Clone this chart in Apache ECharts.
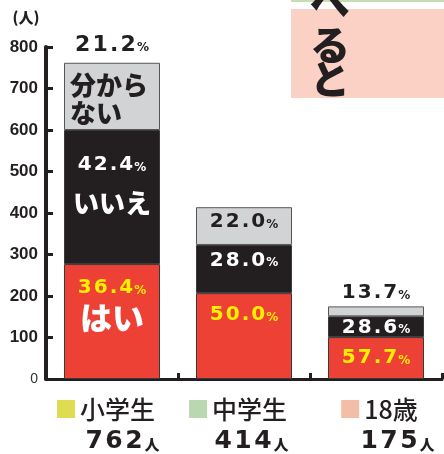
<!DOCTYPE html>
<html>
<head>
<meta charset="utf-8">
<script src="https://cdn.jsdelivr.net/npm/echarts@6/dist/echarts.min.js"></script>
<style>
  html, body { margin: 0; padding: 0; background: #fff; }
  #chart { width: 444px; height: 454px; }
</style>
</head>
<body>
<div id="chart"></div>
<script>
// data
const categories = ['小学生', '中学生', '18歳']
const totals = [762, 414, 175]
const yesCount = [277, 207, 101]
const noCount = [323, 116, 50]
const unsureCount = [162, 91, 24]
const yesPct = ['36.4', '50.0', '57.7']
const noPct = ['42.4', '28.0', '28.6']
const unsurePct = ['21.2', '22.0', '13.7']
const yMin = 0, yMax = 800, yStep = 100
const sideWords = ['べ', 'る', 'と']

const INK = '#231f20'
const RED = '#ee4136'
const GRAY = '#d1d3d4'
const YELLOW = '#fff000'
const legendColors = ['#e0dc52', '#b9d8b0', '#f3bea7']
const JP = '"Noto Sans CJK JP", "Noto Sans", sans-serif'
const NUM = '"DejaVu Sans", sans-serif'

let $ = s => document.querySelector(s)
let spaced = s => s.split('').join('\u200a')

// where each segment label sits (layout only)
const yesPlace = [
  {position: 'insideTop', distance: 9, lh: 30, word: 'はい', wsize: 32, wlh: 30},
  {position: 'insideTop', distance: 10},
  {position: 'inside', offset: [0, 0]}
]
const noPlace = [
  {position: 'insideTop', distance: 17, lh: 36, word: 'いいえ', wsize: 26, wlh: 40},
  {position: 'insideTop', distance: 3.5},
  {position: 'inside', offset: [0, 1]}
]
const unsurePlace = [
  null,
  {position: 'insideTop', distance: 3},
  null
]
const topPlace = [
  {position: 'top', distance: 5, size: 22},
  null,
  {position: 'top', distance: 1.5}
]

function pctLabel(pct, place, numColor, wordColor) {
  if (!place) return {show: false}
  let lh = place.lh || 24
  let lines = [`{n|${spaced(pct)}}{u|%}`]
  if (place.word) lines.push(`{w|${place.word}}`)
  return {
    show: true,
    position: place.position,
    distance: place.distance || 0,
    offset: place.offset || [0, 0],
    formatter: lines.join('\n'),
    rich: {
      n: {fontFamily: NUM, fontWeight: 'bold', fontSize: place.size || 20, lineHeight: lh, color: numColor},
      u: {fontFamily: NUM, fontWeight: 'bold', fontSize: 12, lineHeight: lh, padding: [5, 0, 0, 1], color: numColor},
      w: {fontFamily: JP, fontWeight: 900, fontSize: place.wsize || 26, lineHeight: place.wlh || 40, color: wordColor}
    }
  }
}

function items(values, pcts, places, numColor, wordColor) {
  return values.map((v, i) => ({value: v, label: pctLabel(pcts[i], places[i], numColor, wordColor)}))
}

// legend under each category: square + name, then the head count
const line1Shift = [-6, -6, 3.5]
const line2Shift = [10.5, 7.5, 21.5]
const legendRich = {
  c: {fontFamily: JP, fontWeight: 500, fontSize: 25, color: INK, lineHeight: 30, padding: [0, 0, 0, 5]},
  k: {fontFamily: NUM, fontWeight: 'bold', fontSize: 25, color: INK, lineHeight: 34},
  h: {fontFamily: JP, fontWeight: 900, fontSize: 15, color: INK, lineHeight: 34, padding: [6, 0, 0, 2]}
}
categories.forEach((c, i) => {
  legendRich['s' + i] = {width: 18, height: 18, backgroundColor: legendColors[i]}
  let a = line1Shift[i], b = line2Shift[i]
  legendRich['a' + i] = {width: a > 0 ? 2 * a : 0.1}
  legendRich['r' + i] = {width: a < 0 ? -2 * a : 0.1}
  legendRich['b' + i] = {width: b > 0 ? 2 * b : 0.1}
})

const Chart = {
  init() {
    this.chart = echarts.init($('#chart'), null, {renderer: 'canvas'})
    this.render()
  },

  render() {
    const option = {
      animation: false,
      backgroundColor: '#fff',
      grid: {left: 46, right: 2, top: 47, bottom: 75, containLabel: false, outerBoundsMode: 'none'},
      xAxis: {
        type: 'category',
        data: categories,
        axisLine: {lineStyle: {color: INK, width: 3}},
        axisTick: {show: true, inside: true, length: 6, lineStyle: {color: INK, width: 3}},
        axisLabel: {
          interval: 0,
          margin: 15,
          formatter: (v, i) => `{a${i}|}{s${i}|}{c|${v}}{r${i}|}\n{b${i}|}{k|${spaced(String(totals[i]))}}{h|人}`,
          rich: legendRich
        },
        splitLine: {show: false}
      },
      yAxis: {
        type: 'value',
        min: yMin, max: yMax, interval: yStep,
        name: '(人)',
        nameLocation: 'end',
        nameGap: 22,
        nameTextStyle: {fontFamily: JP, fontWeight: 900, fontSize: 15, color: INK, align: 'center', padding: [0, 40, 0, 0]},
        axisLine: {show: true, lineStyle: {color: INK, width: 4}},
        axisTick: {show: true, inside: true, length: 7, lineStyle: {color: INK, width: 3}},
        splitLine: {show: false},
        axisLabel: {
          margin: 8,
          color: INK,
          fontFamily: '"Liberation Sans", Arial, sans-serif',
          fontWeight: 'bold',
          fontSize: 17,
          formatter: v => v === 0 ? '{z|0}' : String(v),
          rich: {z: {fontFamily: '"Liberation Sans", Arial, sans-serif', fontSize: 14, fontWeight: 'normal', color: '#333'}}
        }
      },
      series: [
        {
          name: 'はい', type: 'bar', stack: 'total', barWidth: 96,
          itemStyle: {color: RED, borderColor: '#3a3a3a', borderWidth: 1},
          data: items(yesCount, yesPct, yesPlace, YELLOW, '#fff')
        },
        {
          name: 'いいえ', type: 'bar', stack: 'total', barWidth: 96,
          itemStyle: {color: INK, borderColor: '#3a3a3a', borderWidth: 1},
          data: items(noCount, noPct, noPlace, '#fff', '#fff')
        },
        {
          name: '分からない', type: 'bar', stack: 'total', barWidth: 96,
          itemStyle: {color: GRAY, borderColor: '#555', borderWidth: 1},
          data: unsureCount.map((v, i) => {
            if (i === 0) {
              return {value: v, label: {
                show: true, position: [6, 8], formatter: '{w|分から}\n{w|ない}',
                rich: {w: {fontFamily: JP, fontWeight: 900, fontSize: 26, lineHeight: 28, color: INK}}
              }}
            }
            return {value: v, label: pctLabel(unsurePct[i], unsurePlace[i], INK, INK)}
          })
        },
        {
          // carries the percentages printed above the stacks
          name: 'top', type: 'bar', stack: 'total', barWidth: 96,
          itemStyle: {color: 'transparent', borderWidth: 0},
          data: unsureCount.map((v, i) => ({value: 0, label: pctLabel(unsurePct[i], topPlace[i], INK, INK)}))
        }
      ],
      graphic: [
        {type: 'rect', shape: {x: 291, y: 0, width: 153, height: 2}, style: {fill: '#c5dfb1'}},
        {type: 'rect', shape: {x: 291, y: 9, width: 153, height: 89}, style: {fill: '#fcd1c5'}},
        ...sideWords.map((ch, i) => ({
          type: 'text', x: 330, y: [1, 45, 79][i],
          style: {text: ch, fontFamily: JP, fontWeight: 900, fontSize: 40, fill: INK, align: 'center', verticalAlign: 'middle'}
        }))
      ]
    }
    this.chart.setOption(option, true)
  }
}

Chart.init()
</script>
</body>
</html>
